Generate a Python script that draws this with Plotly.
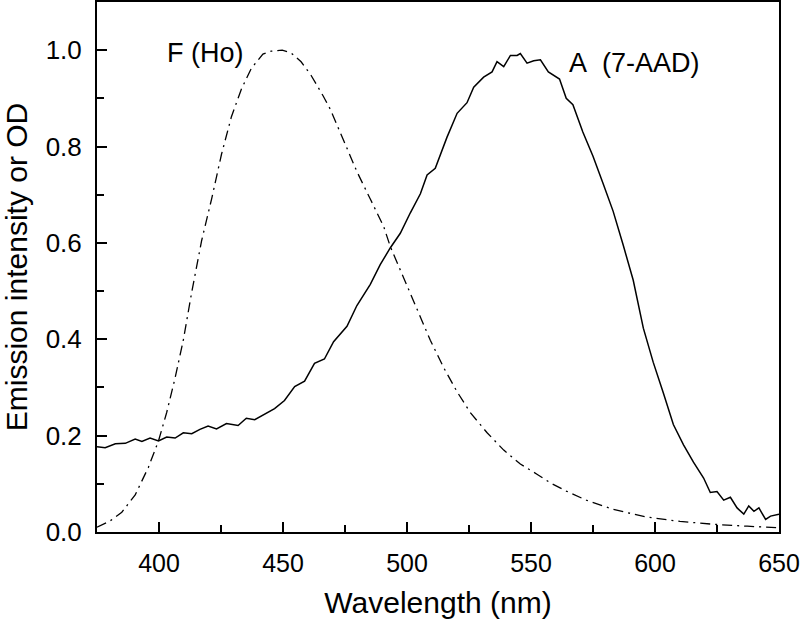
import plotly.graph_objects as go

# F (Ho) emission, dash-dot curve
f_nm = [375, 380, 385, 390.4, 395.7, 399.8, 403.1, 406.5, 409.8, 413.2, 417.2, 421.2,
        425.2, 429.2, 433.2, 437.2, 441.9, 445.3, 449.7, 453.3, 457.3, 461.3, 466.2,
        469.1, 474.5, 479.8, 485.2, 490.6, 493.3, 498.7, 504.0, 509.4, 514.8, 520.2,
        525.5, 532.3, 539.0, 545.7, 552.4, 557.8, 564.2, 572.3, 583.1, 596.6, 610.1,
        623.6, 637.2, 650]
f_val = [0.010, 0.022, 0.041, 0.077, 0.134, 0.189, 0.248, 0.320, 0.398, 0.498, 0.605, 0.691,
         0.784, 0.862, 0.919, 0.962, 0.992, 0.998, 1.000, 0.994, 0.976, 0.948, 0.905,
         0.877, 0.812, 0.748, 0.691, 0.634, 0.592, 0.527, 0.463, 0.398, 0.341, 0.291,
         0.248, 0.206, 0.170, 0.141, 0.120, 0.102, 0.085, 0.066, 0.047, 0.031, 0.022,
         0.016, 0.012, 0.009]

# A (7-AAD) absorbance, solid curve
a_nm = [375, 378.3, 382.4, 386.4, 390.4, 393.1, 396.4, 399.8, 403.1, 406.5, 409.8, 413.2,
        416.5, 419.8, 423.2, 427.2, 431.9, 435.2, 438.6, 442.6, 446.6, 450.6, 454.7, 458.7,
        462.7, 466.7, 470.4, 475.8, 479.8, 485.2, 489.2, 493.3, 497.3, 501.3, 505.4, 508.1,
        511.4, 516.1, 520.2, 524.2, 526.9, 530.9, 534.3, 536.3, 539.0, 541.7, 544.4, 545.7,
        548.4, 551.1, 553.8, 557.0, 561.5, 564.2, 566.9, 570.9, 575.0, 579.1, 583.1, 587.2,
        591.2, 595.3, 599.3, 603.4, 607.4, 611.5, 615.5, 619.6, 622.3, 625.0, 627.7, 630.4,
        633.1, 635.8, 637.8, 639.9, 641.9, 644.6, 646.6, 650]
a_val = [0.177, 0.175, 0.183, 0.184, 0.193, 0.188, 0.195, 0.189, 0.197, 0.195, 0.206, 0.204,
         0.213, 0.220, 0.214, 0.225, 0.221, 0.236, 0.233, 0.245, 0.256, 0.273, 0.302, 0.313,
         0.350, 0.359, 0.395, 0.427, 0.470, 0.514, 0.555, 0.590, 0.620, 0.662, 0.702, 0.741,
         0.755, 0.819, 0.869, 0.891, 0.923, 0.944, 0.955, 0.976, 0.966, 0.989, 0.989, 0.993,
         0.973, 0.978, 0.980, 0.955, 0.940, 0.900, 0.887, 0.830, 0.780, 0.723, 0.666, 0.595,
         0.523, 0.423, 0.352, 0.288, 0.223, 0.181, 0.145, 0.112, 0.082, 0.084, 0.066, 0.072,
         0.050, 0.037, 0.054, 0.043, 0.050, 0.026, 0.033, 0.037]

FONT = "Liberation Sans, Arial, sans-serif"

fig = go.Figure()
fig.add_trace(go.Scatter(x=f_nm, y=f_val, mode="lines", name="F (Ho)",
                         line=dict(color="black", width=1.3, dash="10px,5px,2px,5px")))
fig.add_trace(go.Scatter(x=a_nm, y=a_val, mode="lines", name="A (7-AAD)",
                         line=dict(color="black", width=1.5)))

fig.add_annotation(x=402.5, y=0.995, text="F (Ho)", showarrow=False, xanchor="left",
                   font=dict(size=27, color="black", family=FONT))
fig.add_annotation(x=564.5, y=0.973, text="A&nbsp;&nbsp;(7-AAD)", showarrow=False,
                   xanchor="left", font=dict(size=27, color="black", family=FONT))

axis_common = dict(showgrid=False, zeroline=False, showline=True, linecolor="black",
                   linewidth=2, mirror=True, ticks="inside", tickcolor="black",
                   tickwidth=2, ticklen=10)

fig.update_xaxes(range=[375, 650], tick0=400, dtick=50,
                 minor=dict(ticks="inside", dtick=25, tick0=375, ticklen=7,
                            tickwidth=2, tickcolor="black"),
                 tickfont=dict(size=25, color="black", family=FONT),
                 ticklabelstandoff=8,
                 title=dict(text="Wavelength (nm)", standoff=16,
                            font=dict(size=30, color="black", family=FONT)),
                 **axis_common)
fig.update_yaxes(range=[0, 1.1], tick0=0, dtick=0.2, tickformat=".1f",
                 minor=dict(ticks="inside", dtick=0.1, ticklen=7,
                            tickwidth=2, tickcolor="black"),
                 tickfont=dict(size=26, color="black", family=FONT),
                 ticklabelstandoff=8,
                 title=dict(text="Emission intensity or OD", standoff=14,
                            font=dict(size=30, color="black", family=FONT)),
                 **axis_common)

fig.update_layout(width=800, height=627, showlegend=False,
                  plot_bgcolor="white", paper_bgcolor="white",
                  margin=dict(l=97, r=21, t=2, b=95, autoexpand=False))

fig.write_html("out.html", config={"displayModeBar": False},
               post_script="document.body.style.margin='0';document.body.style.overflow='hidden';")
